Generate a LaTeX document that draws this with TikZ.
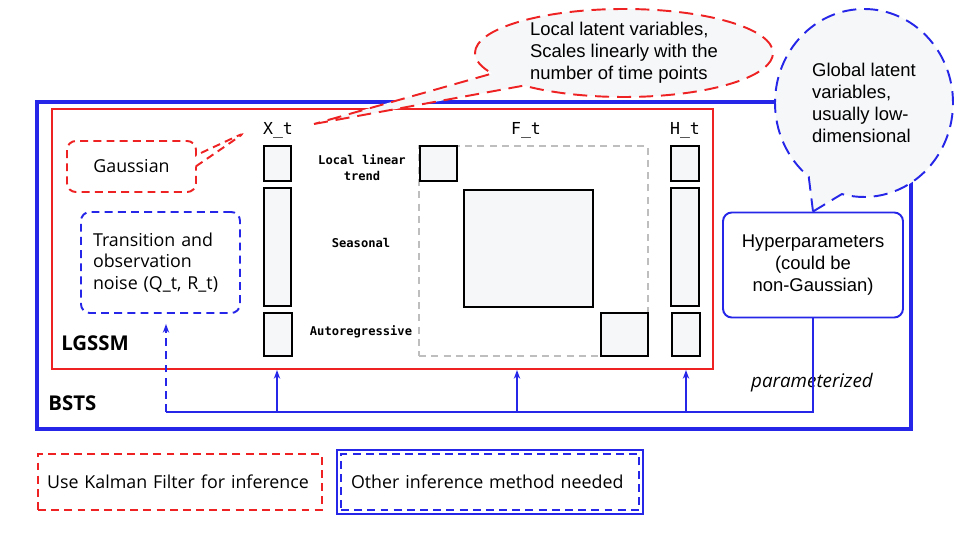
\documentclass[tikz,border=0pt]{standalone}
\usepackage{fontspec}
\setmainfont{Liberation Sans}
\newfontfamily\gsans{Open Sans}
\setmonofont{DejaVu Sans Mono}
\usetikzlibrary{arrows.meta,shapes.callouts}
\definecolor{bstsblue}{RGB}{38,38,232}
\definecolor{lgssmred}{RGB}{238,34,34}
\definecolor{cellfill}{RGB}{246,247,249}
\definecolor{framegray}{RGB}{190,190,190}

\begin{document}
\begin{tikzpicture}[
  x=0.02cm, y=-0.02cm,
  >={Stealth[length=5pt, width=3.6pt]},
  every node/.style={inner sep=0pt},
  size/.style 2 args={minimum width=#1*0.02cm, minimum height=#2*0.02cm},
  bstsbox/.style={rectangle, draw=bstsblue, line width=2pt},
  lgssmbox/.style={rectangle, draw=lgssmred, line width=1.1pt},
  cell/.style={rectangle, draw=black, fill=cellfill, line width=1.1pt},
  blockframe/.style={rectangle, draw=framegray, line width=0.9pt, dash pattern=on 4pt off 3pt},
  redsoft/.style={draw=lgssmred, line width=1.1pt, dash pattern=on 4.5pt off 3pt},
  bluesoft/.style={draw=bstsblue, line width=1.1pt, dash pattern=on 4.5pt off 3pt},
  bodytext/.style={font=\gsans\fontsize{10.15}{12.2}\selectfont},
  notetext/.style={font=\fontsize{10.5}{12.4}\selectfont, align=left},
  matlabel/.style={font=\ttfamily\fontsize{9.4}{11}\selectfont},
  rowlabel/.style={font=\ttfamily\bfseries\fontsize{6.9}{9}\selectfont, align=center},
  tag/.style={font=\gsans\bfseries\fontsize{11.6}{13}\selectfont, anchor=west},
  busline/.style={draw=bstsblue, line width=0.85pt},
]

% ---- outer model boxes ----
\node[bstsbox, size={874}{327}]  (bsts)  at (474, 265.5) {};
\node[lgssmbox, size={661}{260}] (lgssm) at (382.5, 239) {};
\node[tag] (bststag)  at (48, 403) {BSTS};
\node[tag] (lgssmtag) at (61, 343) {LGSSM};

% ---- state space matrices ----
\node[matlabel] (xtlbl) at (278, 130) {X\_t};
\node[matlabel] (ftlbl) at (526, 130) {F\_t};
\node[matlabel] (htlbl) at (685, 130) {H\_t};

\node[blockframe, size={229}{210}] (fframe) at (533.5, 251) {};

\node[cell, size={27}{35}]   (xtop) at (277.5, 163.5) {};
\node[cell, size={27}{118}]  (xmid) at (277.5, 247) {};
\node[cell, size={28}{43}]   (xbot) at (278, 334.5) {};

\node[cell, size={37}{35}]   (ftop) at (438.5, 163.5) {};
\node[cell, size={129}{117}] (fmid) at (528.5, 248.5) {};
\node[cell, size={47}{43}]   (fbot) at (624.5, 334.5) {};

\node[cell, size={28}{35}]   (htop) at (685, 163.5) {};
\node[cell, size={28}{118}]  (hmid) at (685, 247) {};
\node[cell, size={28}{43}]   (hbot) at (686, 334.5) {};

\node[rowlabel] (trendlbl) at (362, 168) {Local linear\\trend};
\node[rowlabel] (seaslbl)  at (361, 243) {Seasonal};
\node[rowlabel] (arlbl)    at (361, 332) {Autoregressive};

% ---- noise and hyperparameters ----
\node[rectangle, bluesoft, rounded corners=5pt, size={159}{101}, bodytext, text width=2.7cm, align=left]
  (noise) at (160.5, 262.5) {Transition and\\observation\\noise (Q\_t, R\_t)};
\node[rectangle, draw=bstsblue, line width=1.1pt, rounded corners=5pt, size={180}{105},
  notetext, align=center] (hyper) at (813, 265) {Hyperparameters\\(could be\\non-Gaussian)};
\node[font=\gsans\itshape\fontsize{10.7}{12}\selectfont] (paramlbl) at (812, 383) {parameterized};

% ---- parameter bus ----
\coordinate (busR) at (813, 412);
\coordinate (busL) at (166, 412);
\draw[busline] (hyper.south) -- (busR) -- (busL);
\draw[busline, ->, dash pattern=on 4.5pt off 3pt, shorten >=0.2cm] (busL) -- (busL |- noise.south);
\foreach \x/\n in {277/x, 517/f, 686/h} {
  \coordinate (tap\n) at (\x, 412);
  \draw[busline, ->] (tap\n) -- (tap\n |- lgssm.south);
}

% ---- callouts ----
\node[rectangle callout, redsoft, rounded corners=5pt, fill=white, size={129}{51}, bodytext,
  callout absolute pointer={(246, 132)}, callout pointer width=0.22cm]
  (gauss) at (131.5, 166.5) {Gaussian};
\node[ellipse callout, draw=lgssmred, line width=1.1pt, dash pattern=on 8pt off 4.5pt,
  fill=cellfill, size={298}{88}, notetext, callout pointer arc=20,
  callout absolute pointer={(314, 124)}]
  (localnote) at (624, 53) {Local latent variables,\\Scales linearly with the\\number of time points};
\node[ellipse callout, draw=bstsblue, line width=1.1pt, dash pattern=on 8pt off 4.5pt,
  fill=cellfill, size={178}{188}, notetext, callout pointer arc=24,
  callout absolute pointer={(hyper.north)}]
  (globalnote) at (864, 103) {Global latent\\variables,\\usually low-\\dimensional};

% ---- legend ----
\node[rectangle, redsoft, size={284}{56}, bodytext, text width=5.32cm, align=left] (legendkf) at (180, 482)
  {Use Kalman Filter for inference};
\node[rectangle, draw=bstsblue, line width=0.6pt, size={306}{64}] (legendframe) at (490, 482) {};
\node[rectangle, bluesoft, size={298}{56}, bodytext, text width=5.56cm, align=left] (legendother) at (490, 482)
  {Other inference method needed};

\useasboundingbox (0, 0) rectangle (960, 540);
\end{tikzpicture}
\end{document}
